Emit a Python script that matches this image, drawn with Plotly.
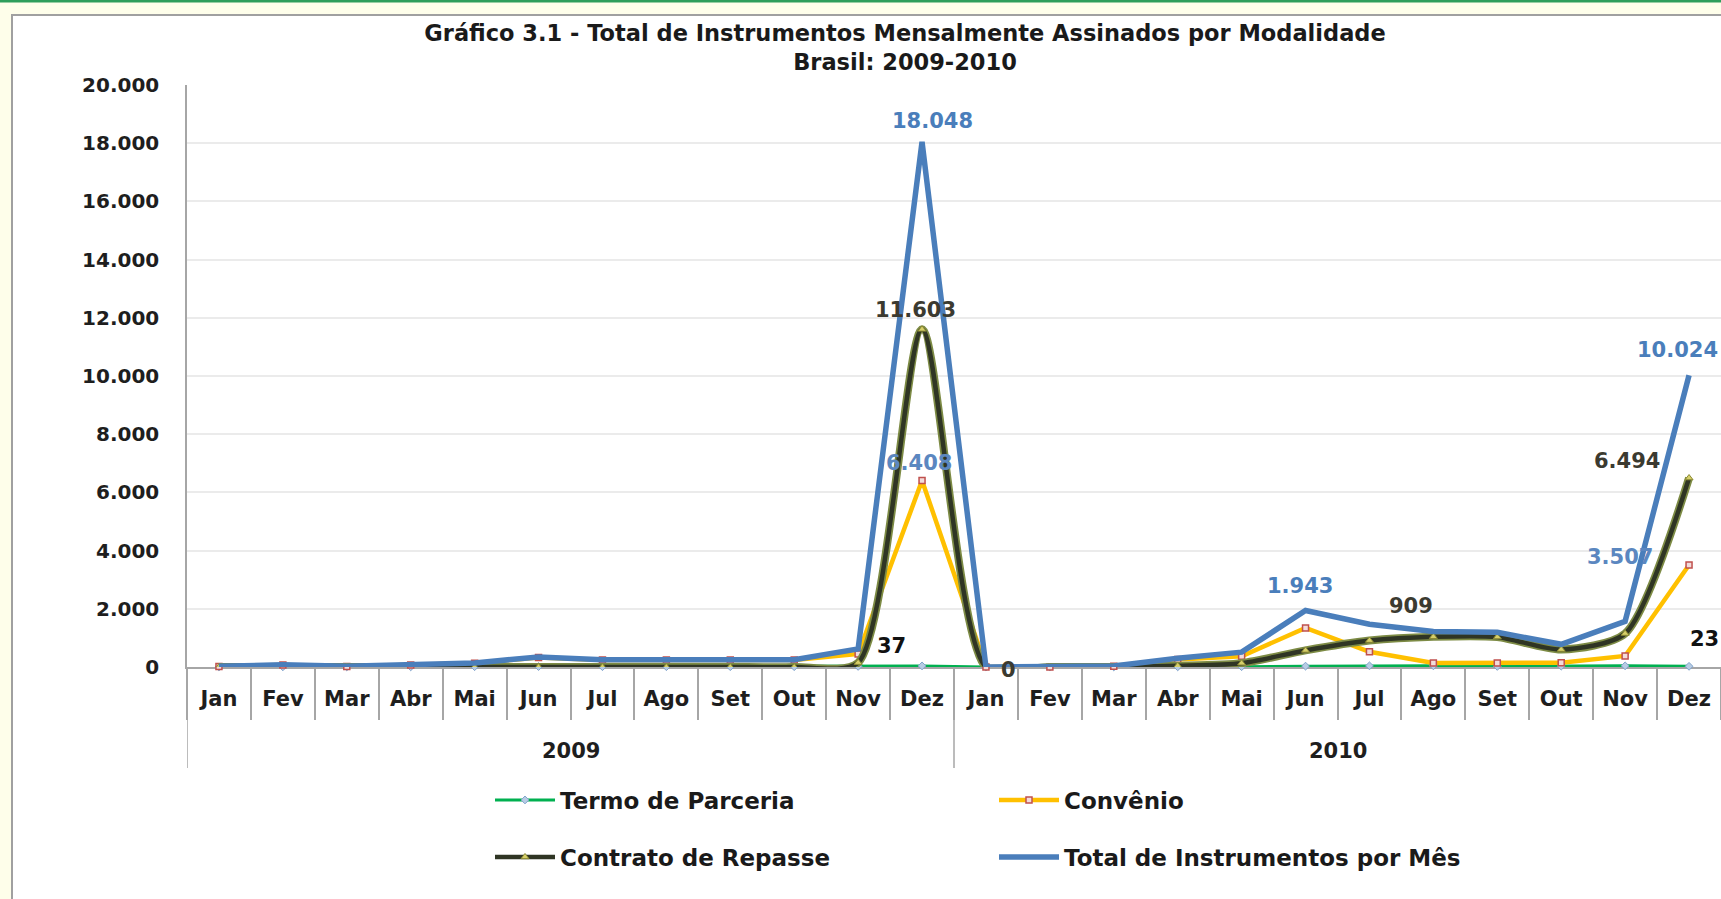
import plotly.graph_objects as go

# ---------------- data ----------------
months = ["Jan", "Fev", "Mar", "Abr", "Mai", "Jun", "Jul", "Ago", "Set", "Out", "Nov", "Dez"]
years = ["2009", "2010"]
year_cat = ["2009"] * 12 + ["2010"] * 12
month_cat = months + months

termo = [2, 5, 3, 6, 10, 15, 10, 10, 10, 10, 20, 37,
         0, 0, 2, 5, 10, 30, 40, 40, 20, 30, 40, 23]
convenio = [20, 70, 20, 70, 130, 330, 240, 240, 240, 240, 450, 6408,
            0, 0, 30, 255, 370, 1343, 521, 140, 140, 150, 380, 3507]
contrato = [0, 0, 0, 0, 0, 0, 0, 0, 0, 0, 150, 11603,
            0, 0, 0, 40, 130, 570, 909, 1040, 1030, 600, 1150, 6494]
total = [22, 75, 23, 76, 140, 345, 250, 250, 250, 250, 620, 18048,
         0, 0, 32, 300, 510, 1943, 1470, 1220, 1190, 780, 1570, 10024]

# labelled points: (index, x offset px, y offset px)
termo_lbl = [(11, -31, 20), (23, 15, 27)]
convenio_lbl = [(11, -3, 18), (23, -69, 8)]
contrato_lbl = [(11, -7, 19), (12, 23, -3), (18, 42, 35), (23, -62, 17)]
total_lbl = [(11, 10, 21), (17, -6, 24), (23, -12, 25)]

keys = [m + " " + y for m, y in zip(month_cat, year_cat)]

BLUE = "#4A7EBB"
YELLOW = "#FFC000"
GREEN = "#00B050"
DARK = "#2F3524"
OLIVE = "#7D8B45"
GRAY = "#A6A6A6"
FONT = "DejaVu Sans"

fig = go.Figure()

fig.add_trace(go.Scatter(
    x=keys, y=termo, name="Termo de Parceria", mode="lines+markers",
    line=dict(color=GREEN, width=3),
    marker=dict(symbol="diamond", size=6, color="#B8CCE4", line=dict(color="#7FA3CC", width=1)),
    cliponaxis=False, legend="legend",
))
fig.add_trace(go.Scatter(
    x=keys, y=convenio, name="Convênio", mode="lines+markers",
    line=dict(color=YELLOW, width=4.5),
    marker=dict(symbol="square", size=6, color="#F2DCDB", line=dict(color="#C0504D", width=1.5)),
    cliponaxis=False, legend="legend",
))
fig.add_trace(go.Scatter(
    x=keys, y=contrato, showlegend=False, mode="lines", hoverinfo="skip",
    line=dict(color=OLIVE, width=8, shape="spline", smoothing=0.7),
    cliponaxis=True,
))
fig.add_trace(go.Scatter(
    x=keys, y=contrato, name="Contrato de Repasse", mode="lines+markers",
    line=dict(color=DARK, width=4.5, shape="spline", smoothing=0.7),
    marker=dict(symbol="triangle-up", size=7, color="#D6CF6A", line=dict(color="#8C8A34", width=1)),
    cliponaxis=True, legend="legend2",
))
fig.add_trace(go.Scatter(
    x=keys, y=total, name="Total de Instrumentos por Mês", mode="lines",
    line=dict(color=BLUE, width=5.5),
    cliponaxis=False, legend="legend2",
))

# ---------------- layout helpers ----------------
L, R, T, B = 187, 0, 85, 232
W, H = 1721, 899
PW, PH = W - L - R, H - T - B


def px2x(px):
    return (px - L) / PW


def px2y(py):
    return (H - B - py) / PH


def fmt(v):
    return f"{v:,}".replace(",", ".")


annotations = []
for spec, vals, color in [(termo_lbl, termo, "#111111"),
                          (convenio_lbl, convenio, "#5B87C0"),
                          (contrato_lbl, contrato, "#3B3A30"),
                          (total_lbl, total, BLUE)]:
    for i, dx, dy in spec:
        annotations.append(dict(
            x=keys[i], y=vals[i], xref="x", yref="y", text=fmt(vals[i]), showarrow=False,
            xanchor="center", yanchor="middle", xshift=dx, yshift=dy,
            font=dict(family=FONT, size=21, color=color, weight="bold"),
        ))

# year (outer level) labels centred under their months
n = len(months)
for k, yr in enumerate(years):
    annotations.append(dict(
        x=k * n + (n - 1) / 2, y=px2y(751), xref="x", yref="paper", text=yr, showarrow=False,
        xanchor="center", yanchor="middle",
        font=dict(family=FONT, size=21, color="#1E1E1E", weight="bold"),
    ))

shapes = [
    dict(type="rect", xref="paper", yref="paper", layer="below",
         x0=px2x(12), x1=px2x(W + 20), y0=px2y(H + 20), y1=px2y(15),
         fillcolor="#FFFFFF", line=dict(color="#A0A0A0", width=2)),
    dict(type="line", xref="paper", yref="paper", layer="below",
         x0=px2x(-10), x1=px2x(W + 10), y0=px2y(1), y1=px2y(1),
         line=dict(color="#2E9E5B", width=3)),
]
for k in range(len(years)):
    shapes.append(dict(type="line", xref="x", yref="paper", layer="below",
                       x0=k * n - 0.5, x1=k * n - 0.5, y0=0, y1=px2y(768),
                       line=dict(color=GRAY, width=1.5)))

fig.update_layout(
    width=W, height=H,
    margin=dict(l=L, r=R, t=T, b=B, pad=0),
    paper_bgcolor="#FEFEEA", plot_bgcolor="#FFFFFF",
    separators=",.",
    font=dict(family=FONT, size=20, color="#1E1E1E", weight="bold"),
    title=dict(
        text="Gráfico 3.1 - Total de Instrumentos Mensalmente Assinados por Modalidade<br>Brasil: 2009-2010",
        x=905 / W, xanchor="center", y=1 - 41 / H, yanchor="top", yref="container",
        font=dict(family=FONT, size=22.5, color="#1A1A1A", weight="bold"),
    ),
    xaxis=dict(
        type="category", categoryorder="array", categoryarray=keys,
        tickmode="array", tickvals=keys, ticktext=month_cat,
        range=[-0.5, len(keys) - 0.5],
        showline=True, linecolor=GRAY, linewidth=1.5,
        ticks="outside", tickson="boundaries", ticklen=51, tickcolor=GRAY, tickwidth=1.5,
        ticklabelstandoff=12,
        showgrid=False, layer="below traces",
        tickfont=dict(family=FONT, size=21, color="#1E1E1E", weight="bold"),
    ),
    yaxis=dict(
        range=[0, 20000], dtick=2000, tickformat=",.0f",
        showgrid=True, gridcolor="#EBEBEB", gridwidth=1.5,
        showline=True, linecolor=GRAY, linewidth=1.5,
        ticks="", ticklabelstandoff=22, zeroline=False, layer="below traces",
        tickfont=dict(family=FONT, size=20, color="#1E1E1E", weight="bold"),
    ),
    legend=dict(
        orientation="h", x=px2x(490), y=px2y(800), xanchor="left", yanchor="middle",
        entrywidth=429, entrywidthmode="pixels", itemwidth=60,
        bgcolor="rgba(0,0,0,0)", font=dict(family=FONT, size=23, color="#1A1A1A", weight="bold"),
    ),
    legend2=dict(
        orientation="h", x=px2x(490), y=px2y(857), xanchor="left", yanchor="middle",
        entrywidth=429, entrywidthmode="pixels", itemwidth=60,
        bgcolor="rgba(0,0,0,0)", font=dict(family=FONT, size=23, color="#1A1A1A", weight="bold"),
    ),
    shapes=shapes,
    annotations=annotations,
    hovermode=False,
)

fig.write_html("out.html", config={"displayModeBar": False},
               post_script="document.body.style.margin='0';document.body.style.overflow='hidden';")
